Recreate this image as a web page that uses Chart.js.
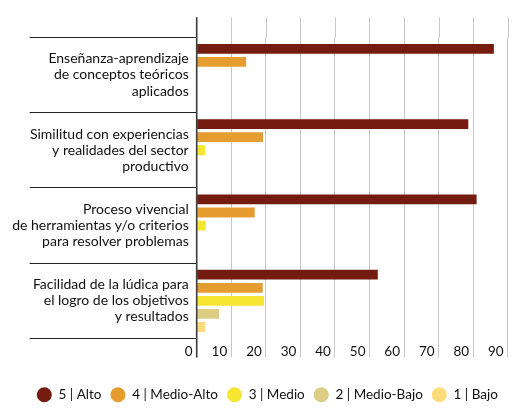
<!DOCTYPE html>
<html><head><meta charset="utf-8">
<script src="https://cdn.jsdelivr.net/npm/chart.js@4/dist/chart.umd.min.js"></script>
<style>html,body{margin:0;padding:0;background:#fff}#wrap{width:524px;height:413px}</style>
</head><body><div id="wrap"><canvas id="c"></canvas></div>
<script>
const categories = [
  ["Enseñanza-aprendizaje","de conceptos teóricos","aplicados"],
  ["Similitud con experiencias","y realidades del sector","productivo"],
  ["Proceso vivencial","de herramientas y/o criterios","para resolver problemas"],
  ["Facilidad de la lúdica para","el logro de los objetivos","y resultados"]
];
const seriesNames = ["5 | Alto","4 | Medio-Alto","3 | Medio","2 | Medio-Bajo","1 | Bajo"];
const alto      = [86.0, 78.6, 81.0, 52.4];
const medioAlto = [14.3, 19.2, 16.8, 19.1];
const medio     = [0,    2.5,  2.6,  19.5];
const medioBajo = [0,    0,    0,    6.5];
const bajo      = [0,    0,    0,    2.5];
const xTicks = [0,10,20,30,40,50,60,70,80,90];
const colors = ["#731c0f","#e69d30","#f6e633","#dccd83","#fddc7b"];

const FONT = "Lato";
const extendPlugin = {
  id: 'extendAxes',
  afterLayout(chart){
    const lg = chart.legend;
    if (lg) { lg.left += 13.5; lg.right += 13.5; }
  },
  afterDraw(chart){
    const {ctx, chartArea, scales:{x}} = chart;
    const topY = chartArea.top - 20;
    ctx.save();
    ctx.strokeStyle = '#c8c8c8'; ctx.lineWidth = 1;
    xTicks.forEach(v => {
      if (v === 0) return;
      const px = Math.round(x.getPixelForValue(v)) + 0.5;
      ctx.beginPath(); ctx.moveTo(px, topY); ctx.lineTo(px, chartArea.top); ctx.stroke();
    });
    const ax = x.getPixelForValue(0);
    ctx.strokeStyle = '#3a3a3a'; ctx.lineWidth = 1.6;
    ctx.beginPath(); ctx.moveTo(ax, topY); ctx.lineTo(ax, chartArea.bottom + 19); ctx.stroke();
    ctx.restore();
  }
};

new Chart(document.getElementById('c'), {
  type: 'bar',
  data: {
    labels: categories,
    datasets: [alto, medioAlto, medio, medioBajo, bajo].map((d,i)=>({
      label: seriesNames[i], data: d, backgroundColor: colors[i], borderWidth: 0,
      categoryPercentage: 0.868, barPercentage: 0.75
    }))
  },
  options: {
    indexAxis: 'y',
    responsive: true, maintainAspectRatio: false, animation: false,
    layout: { padding: { top: 37.3, right: 16.3, left: 0, bottom: 1.5 } },
    plugins: {
      tooltip: { enabled: false },
      legend: {
        position: 'bottom',
        labels: {
          usePointStyle: true, pointStyle: 'circle', boxHeight: 10.6, pointStyleWidth: 15,
          padding: 9, color: '#111', font: { family: FONT, size: 13.5 }
        }
      }
    },
    scales: {
      x: {
        min: 0, max: 90,
        afterBuildTicks: s => { s.ticks = xTicks.map(v => ({value: v})); },
        afterFit: s => { s.height = 40.5; },
        grid: { color: '#c8c8c8', lineWidth: 1, tickLength: 19, drawTicks: true },
        border: { display: false },
        ticks: { align: 'end', labelOffset: -4, padding: -14.4, color: '#111', font: { family: FONT, size: 13.5 } }
      },
      y: {
        afterFit: s => { s.width = 196.7; },
        grid: { color: '#222', lineWidth: 1, drawOnChartArea: false, tickLength: 167, offset: true },
        border: { display: false },
        ticks: { padding: -159, color: '#111', font: { family: FONT, size: 14, lineHeight: 1.15 } }
      }
    }
  },
  plugins: [extendPlugin]
});
</script></body></html>
